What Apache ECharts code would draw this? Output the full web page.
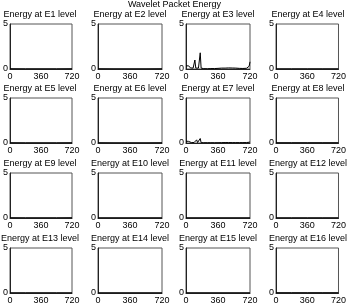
<!DOCTYPE html>
<html><head><meta charset="utf-8">
<script src="https://cdn.jsdelivr.net/npm/echarts@6/dist/echarts.min.js"></script>
<style>html,body{margin:0;padding:0;background:#fff}#c{width:349px;height:308px}</style>
</head><body><div id="c"></div>
<script>
const mainTitle = "Wavelet Packet Energy";
const panelTitles = ["Energy at E1 level","Energy at E2 level","Energy at E3 level","Energy at E4 level",
  "Energy at E5 level","Energy at E6 level","Energy at E7 level","Energy at E8 level",
  "Energy at E9 level","Energy at E10 level","Energy at E11 level","Energy at E12 level",
  "Energy at E13 level","Energy at E14 level","Energy at E15 level","Energy at E16 level"];
const xTicks = [0, 360, 720];
const yTicks = [0, 5];
// dense sample positions for the panels with visible energy
const xsDense = [0,10,20,30,40,50,60,70,80,90,100,110,120,130,140,150,160,170,180,190,200,220,240,260,280,300,320,340,360,380,400,420,440,460,480,500,520,540,560,580,600,620,640,660,680,690,700,710,720];
const e3 = [0.35,0.4,0.3,0.35,0.2,0.12,0.08,0.08,0.1,0.15,1.0,0.1,0.06,0.08,0.1,0.12,1.8,0.1,0.06,0.05,0.04,0.04,0.03,0.04,0.05,0.04,0.05,0.06,0.07,0.08,0.1,0.09,0.1,0.1,0.12,0.1,0.11,0.1,0.1,0.08,0.07,0.06,0.06,0.07,0.08,0.1,0.15,0.3,0.8];
const e7 = [0.2,0.18,0.15,0.18,0.08,0.06,0.05,0.04,0.04,0.05,0.04,0.05,0.35,0.05,0.04,0.04,0.5,0.04,0.03,0.03,0.03,0.03,0.03,0.03,0.03,0.03,0.03,0.03,0.03,0.04,0.04,0.04,0.05,0.04,0.05,0.04,0.04,0.04,0.04,0.04,0.04,0.04,0.04,0.04,0.05,0.05,0.06,0.08,0.12];
// sparse positions for the panels that stay near zero
const xsFlat = [0,180,360,540,720];
const flatVals = {
  E1:[0.03,0.02,0.02,0.02,0.03], E2:[0.03,0.02,0.02,0.02,0.03], E4:[0.02,0.02,0.02,0.02,0.02],
  E5:[0.03,0.02,0.02,0.02,0.03], E6:[0.03,0.02,0.02,0.02,0.03], E8:[0.03,0.03,0.03,0.03,0.03],
  E9:[0.03,0.02,0.02,0.02,0.03], E10:[0.02,0.02,0.02,0.02,0.02], E11:[0.02,0.02,0.02,0.02,0.02],
  E12:[0.02,0.02,0.02,0.02,0.02], E13:[0.02,0.02,0.02,0.02,0.02], E14:[0.02,0.02,0.02,0.02,0.02],
  E15:[0.02,0.02,0.02,0.02,0.02], E16:[0.03,0.03,0.03,0.03,0.03]
};

const colLeft = [8, 98, 186, 276];
const rowTop = [24, 98, 173, 248];
const W = 64, H = 45;
const font = "Liberation Sans, Arial, sans-serif";

const grids = [], xAxes = [], yAxes = [], series = [], titles = [];
titles.push({text: mainTitle, left: 'center', top: 0, padding: 0, textStyle:{fontFamily:font,fontSize:9,fontWeight:'normal',color:'#000'}});
for (let i = 0; i < 16; i++) {
  const r = Math.floor(i/4), c = i%4;
  grids.push({left: colLeft[c], top: rowTop[r], width: W, height: H, show: true, borderColor: '#555', borderWidth: 1, backgroundColor: '#fff'});
  titles.push({text: panelTitles[i], left: colLeft[c] + W/2, textAlign: 'center', top: rowTop[r] - 14, padding: 0,
    textStyle:{fontFamily:font,fontSize:9,fontWeight:'normal',color:'#000'}});
  xAxes.push({gridIndex: i, type: 'value', min: xTicks[0], max: xTicks[2], interval: 360,
    axisLine:{show:true,lineStyle:{color:'#222',width:1}}, axisTick:{show:false}, splitLine:{show:false},
    axisLabel:{fontFamily:font,fontSize:9,color:'#000',margin:3}});
  yAxes.push({gridIndex: i, type: 'value', min: yTicks[0], max: yTicks[1], interval: 5,
    axisLine:{show:true,lineStyle:{color:'#222',width:1}}, axisTick:{show:false}, splitLine:{show:false},
    axisLabel:{fontFamily:font,fontSize:9,color:'#000',margin:2}});
  const key = 'E' + (i+1);
  let data;
  if (key === 'E3') data = xsDense.map((x,k)=>[x,e3[k]]);
  else if (key === 'E7') data = xsDense.map((x,k)=>[x,e7[k]]);
  else data = xsFlat.map((x,k)=>[x,flatVals[key][k]]);
  series.push({type:'line', xAxisIndex:i, yAxisIndex:i, data, showSymbol:false, symbol:'none',
    lineStyle:{color:'#000',width:1}, animation:false});
}
const chart = echarts.init(document.getElementById('c'), null, {renderer:'canvas'});
chart.setOption({animation:false, title: titles, grid: grids, xAxis: xAxes, yAxis: yAxes, series});
</script></body></html>
